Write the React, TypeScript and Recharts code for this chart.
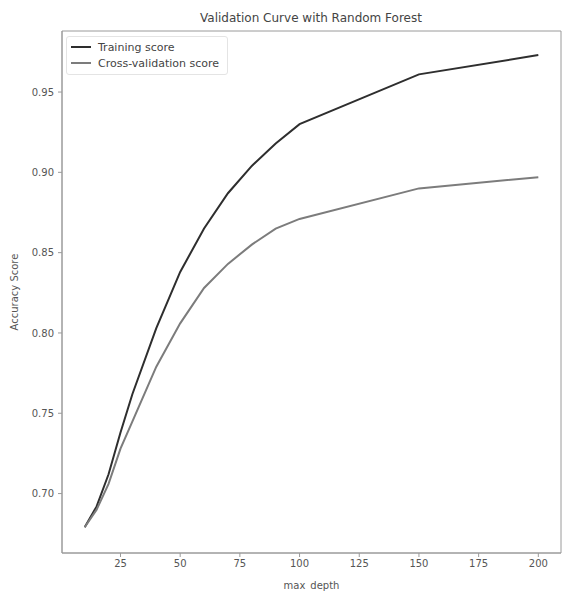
import React from "react";
import { Line, LineChart, ReferenceArea, XAxis, YAxis } from "recharts";

const maxDepth = [10, 15, 20, 25, 30, 40, 50, 60, 70, 80, 90, 100, 150, 200];
const trainScore = [
  0.679, 0.692, 0.712, 0.738, 0.762, 0.803, 0.838, 0.865, 0.887, 0.904, 0.918,
  0.93, 0.961, 0.973,
];
const cvScore = [
  0.679, 0.69, 0.706, 0.728, 0.745, 0.779, 0.806, 0.828, 0.843, 0.855, 0.865,
  0.871, 0.89, 0.897,
];
const xTicks = [25, 50, 75, 100, 125, 150, 175, 200];
const yTicks = [0.7, 0.75, 0.8, 0.85, 0.9, 0.95];

const data = maxDepth.map((d, i) => ({
  depth: d,
  train: trainScore[i],
  cv: cvScore[i],
}));

const series = [
  { key: "train", name: "Training score", color: "#2e2e2e" },
  { key: "cv", name: "Cross-validation score", color: "#7c7c7c" },
];

const font = "'DejaVu Sans', sans-serif";
const axisColor = "#9a9a9a";
const textColor = "#555";

function LegendBox() {
  return (
    <div
      style={{
        position: "absolute",
        left: 66,
        top: 36,
        border: "1px solid #e4e4e4",
        borderRadius: 3,
        background: "#fff",
        padding: "2px 8px 3px 4px",
        fontFamily: font,
        fontSize: 11,
        color: "#444",
      }}
    >
      {series.map((s) => (
        <div
          key={s.key}
          style={{ display: "flex", alignItems: "center", height: 16 }}
        >
          <span
            style={{
              display: "inline-block",
              width: 20,
              height: 2,
              background: s.color,
              marginRight: 7,
            }}
          />
          {s.name}
        </div>
      ))}
    </div>
  );
}

export default function App() {
  return (
    <div
      style={{
        position: "absolute",
        left: 0,
        top: 0,
        width: 562,
        height: 591,
        background: "#fff",
      }}
    >
      <LineChart
        width={562}
        height={591}
        data={data}
        margin={{ top: 31, right: 1, bottom: 0, left: 0 }}
      >
        <text
          x={311}
          y={22}
          textAnchor="middle"
          fontFamily={font}
          fontSize={12}
          fill="#444"
        >
          Validation Curve with Random Forest
        </text>
        <XAxis
          dataKey="depth"
          type="number"
          domain={[0.5, 209.5]}
          ticks={xTicks}
          height={38}
          tickSize={4}
          tickMargin={3}
          stroke={axisColor}
          tick={{ fill: textColor, fontSize: 10, fontFamily: font }}
          label={{
            value: "max_depth",
            position: "insideBottom",
            offset: 2,
            fill: textColor,
            fontSize: 10,
            fontFamily: font,
          }}
        />
        <YAxis
          type="number"
          domain={[0.663, 0.988]}
          ticks={yTicks}
          width={62}
          tickSize={4}
          tickMargin={4}
          stroke={axisColor}
          tickFormatter={(v: number) => v.toFixed(2)}
          tick={{ fill: textColor, fontSize: 10, fontFamily: font }}
          label={{
            value: "Accuracy Score",
            angle: -90,
            position: "insideLeft",
            offset: 14,
            fill: textColor,
            fontSize: 10,
            fontFamily: font,
            style: { textAnchor: "middle" },
          }}
        />
        <ReferenceArea
          x1={0.5}
          x2={209.5}
          y1={0.663}
          y2={0.988}
          fill="none"
          stroke={axisColor}
          strokeWidth={1}
        />
        {series.map((s) => (
          <Line
            key={s.key}
            type="linear"
            dataKey={s.key}
            name={s.name}
            stroke={s.color}
            strokeWidth={2}
            dot={false}
            isAnimationActive={false}
          />
        ))}
      </LineChart>
      <LegendBox />
    </div>
  );
}
